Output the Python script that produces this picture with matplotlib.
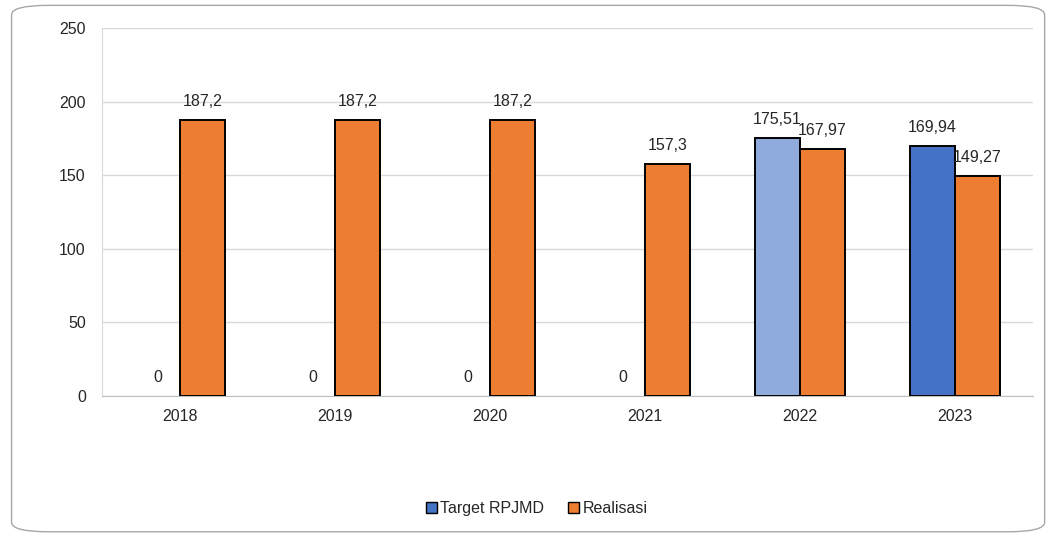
import matplotlib
matplotlib.use("Agg")
import matplotlib.pyplot as plt
from matplotlib.patches import FancyBboxPatch, Patch
from matplotlib import font_manager
import numpy as np

years = ["2018", "2019", "2020", "2021", "2022", "2023"]
target = [0, 0, 0, 0, 175.51, 169.94]
realisasi = [187.2, 187.2, 187.2, 157.3, 167.97, 149.27]
target_labels = ["0", "0", "0", "0", "175,51", "169,94"]
realisasi_labels = ["187,2", "187,2", "187,2", "157,3", "167,97", "149,27"]
y_ticks = [0, 50, 100, 150, 200, 250]

installed = {f.name for f in font_manager.fontManager.ttflist}
family = [f for f in ["Liberation Sans Narrow", "Liberation Sans", "DejaVu Sans"] if f in installed]
plt.rcParams["font.family"] = family

blue = "#4472C4"
light_blue = "#8FAADC"
orange = "#ED7D31"
text_col = "#262626"

fig = plt.figure(figsize=(10.52, 5.35), dpi=100)
fig.patch.set_facecolor("white")

frame = FancyBboxPatch((0.011, 0.006), 0.982, 0.984,
                       boxstyle="round,pad=0,rounding_size=0.035",
                       transform=fig.transFigure, facecolor="white",
                       edgecolor="#A6A6A6", linewidth=1.0, zorder=-5,
                       mutation_aspect=535 / 1052)
fig.patches.append(frame)

ax = fig.add_axes([0.0974, 0.2598, 0.8841, 0.6879])
ax.set_facecolor("none")

x = np.arange(len(years))
w = 0.29
tcolors = [blue] * len(years)
tcolors[4] = light_blue
# zero-height bars get no outline so the baseline stays clean
t_lw = [1.4 if v > 0 else 0 for v in target]
r_lw = [1.4 if v > 0 else 0 for v in realisasi]
ax.bar(x - w / 2, target, w, color=tcolors, edgecolor="black", linewidth=t_lw, zorder=3)
ax.bar(x + w / 2, realisasi, w, color=orange, edgecolor="black", linewidth=r_lw, zorder=3)

for xi, v, lab in zip(x, target, target_labels):
    ax.annotate(lab, (xi - w / 2, v), xytext=(0, 8), textcoords="offset points",
                ha="center", va="bottom", fontsize=11.5, color=text_col)
for xi, v, lab in zip(x, realisasi, realisasi_labels):
    ax.annotate(lab, (xi + w / 2, v), xytext=(0, 8), textcoords="offset points",
                ha="center", va="bottom", fontsize=11.5, color=text_col)

ax.set_xlim(-0.5, len(years) - 0.5)
ax.set_ylim(0, 250)
ax.set_yticks(y_ticks)
ax.set_yticklabels([str(t) for t in y_ticks])
ax.set_xticks(x)
ax.set_xticklabels(years)
ax.tick_params(axis="both", length=0, labelsize=11.5, labelcolor=text_col)
ax.tick_params(axis="y", pad=12)
ax.tick_params(axis="x", pad=9)
ax.grid(axis="y", color="#D9D9D9", linewidth=1.0, zorder=0)
for s in ["top", "right"]:
    ax.spines[s].set_visible(False)
ax.spines["left"].set_color("#D9D9D9")
ax.spines["bottom"].set_color("#BFBFBF")

handles = [Patch(facecolor=blue, edgecolor="black", label="Target RPJMD"),
           Patch(facecolor=orange, edgecolor="black", label="Realisasi")]
fig.legend(handles=handles, loc="center", bbox_to_anchor=(0.51, 0.05), ncol=2,
           frameon=False, fontsize=11.5, handlelength=0.7, handleheight=0.7,
           handletextpad=0.2, columnspacing=1.5, labelcolor=text_col)

fig.savefig("out.png", dpi=100)
